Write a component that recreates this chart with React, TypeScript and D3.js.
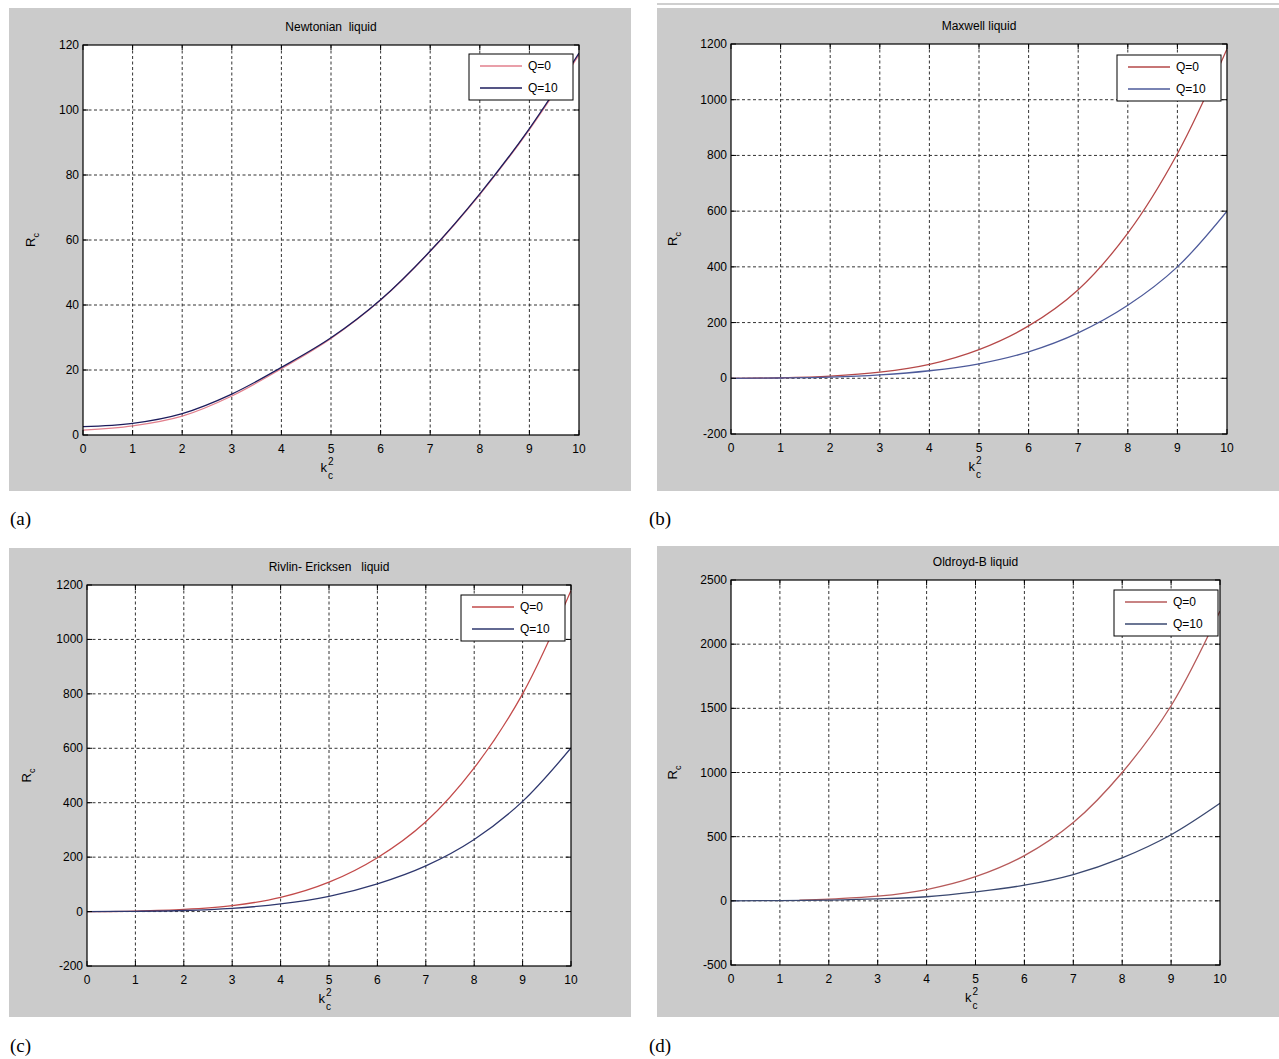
import React from 'react';
import * as d3 from 'd3';

// k_c^2 sample points (shared by most curves)
const kSteps = [0, 1, 2, 3, 4, 5, 6, 7, 8, 9, 10];
const xTickLabels = [0, 1, 2, 3, 4, 5, 6, 7, 8, 9, 10];

// (a) Newtonian liquid
const newtonianQ0 = [1.5, 2.8, 5.8, 12.0, 20.4, 29.7, 41.5, 56.5, 74, 94, 117];
const newtonianQ10 = [2.6, 3.6, 6.6, 12.6, 20.8, 29.9, 41.6, 56.6, 74.2, 94.3, 117.5];
const newtonianTicks = [0, 20, 40, 60, 80, 100, 120];

// (b) Maxwell liquid
const maxwellQ0 = [0, 2, 8, 22, 50, 103, 188, 318, 521, 806, 1182];
const maxwellQ10 = [0, 1, 4, 12, 27, 52, 95, 163, 262, 400, 600];
const maxwellTicks = [-200, 0, 200, 400, 600, 800, 1000, 1200];

// (c) Rivlin-Ericksen liquid
const rivlinQ0 = [0, 2, 8, 22, 52, 108, 198, 330, 528, 800, 1180];
const rivlinQ10 = [0, 1, 4, 12, 28, 56, 102, 168, 265, 405, 601];
const rivlinTicks = [-200, 0, 200, 400, 600, 800, 1000, 1200];

// (d) Oldroyd-B liquid (Q=0 curve only starts near k=1.4)
const oldroydK0 = [1.4, 2, 3, 4, 5, 6, 7, 8, 9, 10];
const oldroydQ0 = [5, 14, 36, 88, 188, 352, 610, 1000, 1520, 2258];
const oldroydQ10 = [0, 2, 6, 15, 32, 70, 122, 205, 335, 515, 760];
const oldroydTicks = [-500, 0, 500, 1000, 1500, 2000, 2500];

const legendLabels = ['Q=0', 'Q=10'];

const sans = '"Liberation Sans", Arial, sans-serif';

const zip = (xs, ys) => xs.map((k, i) => [k, ys[i]]);

const Panel = (props) => {
  const { id, frame, plot, yTicks, title, series, legend, tag } = props;
  const x = d3.scaleLinear().domain([0, 10]).range([plot.left, plot.right]);
  const y = d3
    .scaleLinear()
    .domain([yTicks[0], yTicks[yTicks.length - 1]])
    .range([plot.bottom, plot.top]);
  const line = d3
    .line()
    .x((d) => x(d[0]))
    .y((d) => y(d[1]))
    .curve(d3.curveCatmullRom.alpha(0.5));
  const midX = (plot.left + plot.right) / 2;
  const midY = (plot.top + plot.bottom) / 2;
  const lgX = plot.right - legend.dx - 104;
  const lgY = plot.top + legend.dy;

  return (
    <g>
      <rect x={frame.x} y={frame.y} width={frame.w} height={frame.h} fill="#cbcbcb" />
      <rect
        x={plot.left}
        y={plot.top}
        width={plot.right - plot.left}
        height={plot.bottom - plot.top}
        fill="#fff"
      />
      <clipPath id={'clip-' + id}>
        <rect
          x={plot.left}
          y={plot.top}
          width={plot.right - plot.left}
          height={plot.bottom - plot.top}
        />
      </clipPath>
      {/* grid */}
      <g stroke="#111" strokeWidth={1} strokeDasharray="3,2.5" opacity={0.85}>
        {xTickLabels.slice(1, -1).map((t) => (
          <line key={'gx' + t} x1={x(t)} x2={x(t)} y1={plot.top} y2={plot.bottom} />
        ))}
        {yTicks.slice(1, -1).map((t) => (
          <line key={'gy' + t} x1={plot.left} x2={plot.right} y1={y(t)} y2={y(t)} />
        ))}
      </g>
      {/* curves */}
      <g clipPath={`url(#clip-${id})`} fill="none" strokeWidth={1.3}>
        {series.map((s, i) => (
          <path key={i} d={line(s.points)} stroke={s.color} />
        ))}
      </g>
      {/* axes box and ticks */}
      <rect
        x={plot.left}
        y={plot.top}
        width={plot.right - plot.left}
        height={plot.bottom - plot.top}
        fill="none"
        stroke="#000"
        strokeWidth={1.2}
      />
      <g stroke="#000" strokeWidth={1}>
        {xTickLabels.map((t) => (
          <g key={'tx' + t}>
            <line x1={x(t)} x2={x(t)} y1={plot.bottom} y2={plot.bottom - 5} />
            <line x1={x(t)} x2={x(t)} y1={plot.top} y2={plot.top + 5} />
          </g>
        ))}
        {yTicks.map((t) => (
          <g key={'ty' + t}>
            <line x1={plot.left} x2={plot.left + 5} y1={y(t)} y2={y(t)} />
            <line x1={plot.right} x2={plot.right - 5} y1={y(t)} y2={y(t)} />
          </g>
        ))}
      </g>
      <g fontFamily={sans} fontSize={12} fill="#000">
        {xTickLabels.map((t) => (
          <text key={'lx' + t} x={x(t)} y={plot.bottom + 18} textAnchor="middle">
            {t}
          </text>
        ))}
        {yTicks.map((t) => (
          <text key={'ly' + t} x={plot.left - 4} y={y(t) + 4} textAnchor="end">
            {t}
          </text>
        ))}
        <text x={midX} y={plot.top - 14} textAnchor="middle" style={{ whiteSpace: 'pre' }}>
          {title}
        </text>
        {/* y label R_c */}
        <text
          transform={`translate(${plot.left - props.yLabelOffset},${midY}) rotate(-90)`}
          fontSize={13}
          textAnchor="middle"
        >
          R<tspan fontSize={9} dy={4}>c</tspan>
        </text>
        {/* x label k_c^2 */}
        <text x={midX - 4} y={plot.bottom + 37} fontSize={13} textAnchor="end">k</text>
        <text x={midX - 3} y={plot.bottom + 30} fontSize={10}>2</text>
        <text x={midX - 3} y={plot.bottom + 44} fontSize={10}>c</text>
      </g>
      {/* legend */}
      <g>
        <rect x={lgX} y={lgY} width={104} height={46} fill="#fff" stroke="#000" strokeWidth={1} />
        {series.map((s, i) => (
          <g key={'lg' + i}>
            <line
              x1={lgX + 11}
              x2={lgX + 53}
              y1={lgY + 12 + i * 22}
              y2={lgY + 12 + i * 22}
              stroke={s.color}
              strokeWidth={1.3}
            />
            <text
              x={lgX + 59}
              y={lgY + 16 + i * 22}
              fontFamily={sans}
              fontSize={12}
              fill="#000"
            >
              {legendLabels[i]}
            </text>
          </g>
        ))}
      </g>
      <text
        x={tag.x}
        y={tag.y}
        fontFamily='"Liberation Serif", "DejaVu Serif", serif'
        fontSize={19}
        fill="#000"
      >
        {tag.text}
      </text>
    </g>
  );
};

const App = () => {
  return (
    <div style={{ position: 'absolute', left: 0, top: 0 }}>
      <svg width={1279} height={1059} style={{ display: 'block' }}>
        <rect width={1279} height={1059} fill="#fff" />
        <line x1={657} x2={1279} y1={4} y2={4} stroke="#cfcfcf" strokeWidth={2} />
        <Panel
          id="a"
          frame={{ x: 9, y: 8, w: 622, h: 483 }}
          plot={{ left: 83, right: 579, top: 45, bottom: 435 }}
          yTicks={newtonianTicks}
          yLabelOffset={48}
          title="Newtonian  liquid"
          legend={{ dx: 6, dy: 9 }}
          series={[
            { points: zip(kSteps, newtonianQ0), color: '#e27f8c' },
            { points: zip(kSteps, newtonianQ10), color: '#1c1c5c' },
          ]}
          tag={{ x: 10, y: 525, text: '(a)' }}
        />
        <Panel
          id="b"
          frame={{ x: 657, y: 8, w: 622, h: 483 }}
          plot={{ left: 731, right: 1227, top: 44, bottom: 434 }}
          yTicks={maxwellTicks}
          yLabelOffset={54}
          title="Maxwell liquid"
          legend={{ dx: 6, dy: 11 }}
          series={[
            { points: zip(kSteps, maxwellQ0), color: '#b54848' },
            { points: zip(kSteps, maxwellQ10), color: '#4d5a9a' },
          ]}
          tag={{ x: 649, y: 525, text: '(b)' }}
        />
        <Panel
          id="c"
          frame={{ x: 9, y: 548, w: 622, h: 469 }}
          plot={{ left: 87, right: 571, top: 585, bottom: 966 }}
          yTicks={rivlinTicks}
          yLabelOffset={56}
          title="Rivlin- Ericksen   liquid"
          legend={{ dx: 6, dy: 10 }}
          series={[
            { points: zip(kSteps, rivlinQ0), color: '#c24a4a' },
            { points: zip(kSteps, rivlinQ10), color: '#2e376e' },
          ]}
          tag={{ x: 10, y: 1052, text: '(c)' }}
        />
        <Panel
          id="d"
          frame={{ x: 657, y: 546, w: 622, h: 471 }}
          plot={{ left: 731, right: 1220, top: 580, bottom: 965 }}
          yTicks={oldroydTicks}
          yLabelOffset={54}
          title="Oldroyd-B liquid"
          legend={{ dx: 2, dy: 10 }}
          series={[
            { points: zip(oldroydK0, oldroydQ0), color: '#b65a5a' },
            { points: zip(kSteps, oldroydQ10), color: '#3a4870' },
          ]}
          tag={{ x: 649, y: 1052, text: '(d)' }}
        />
      </svg>
    </div>
  );
};

export default App;
